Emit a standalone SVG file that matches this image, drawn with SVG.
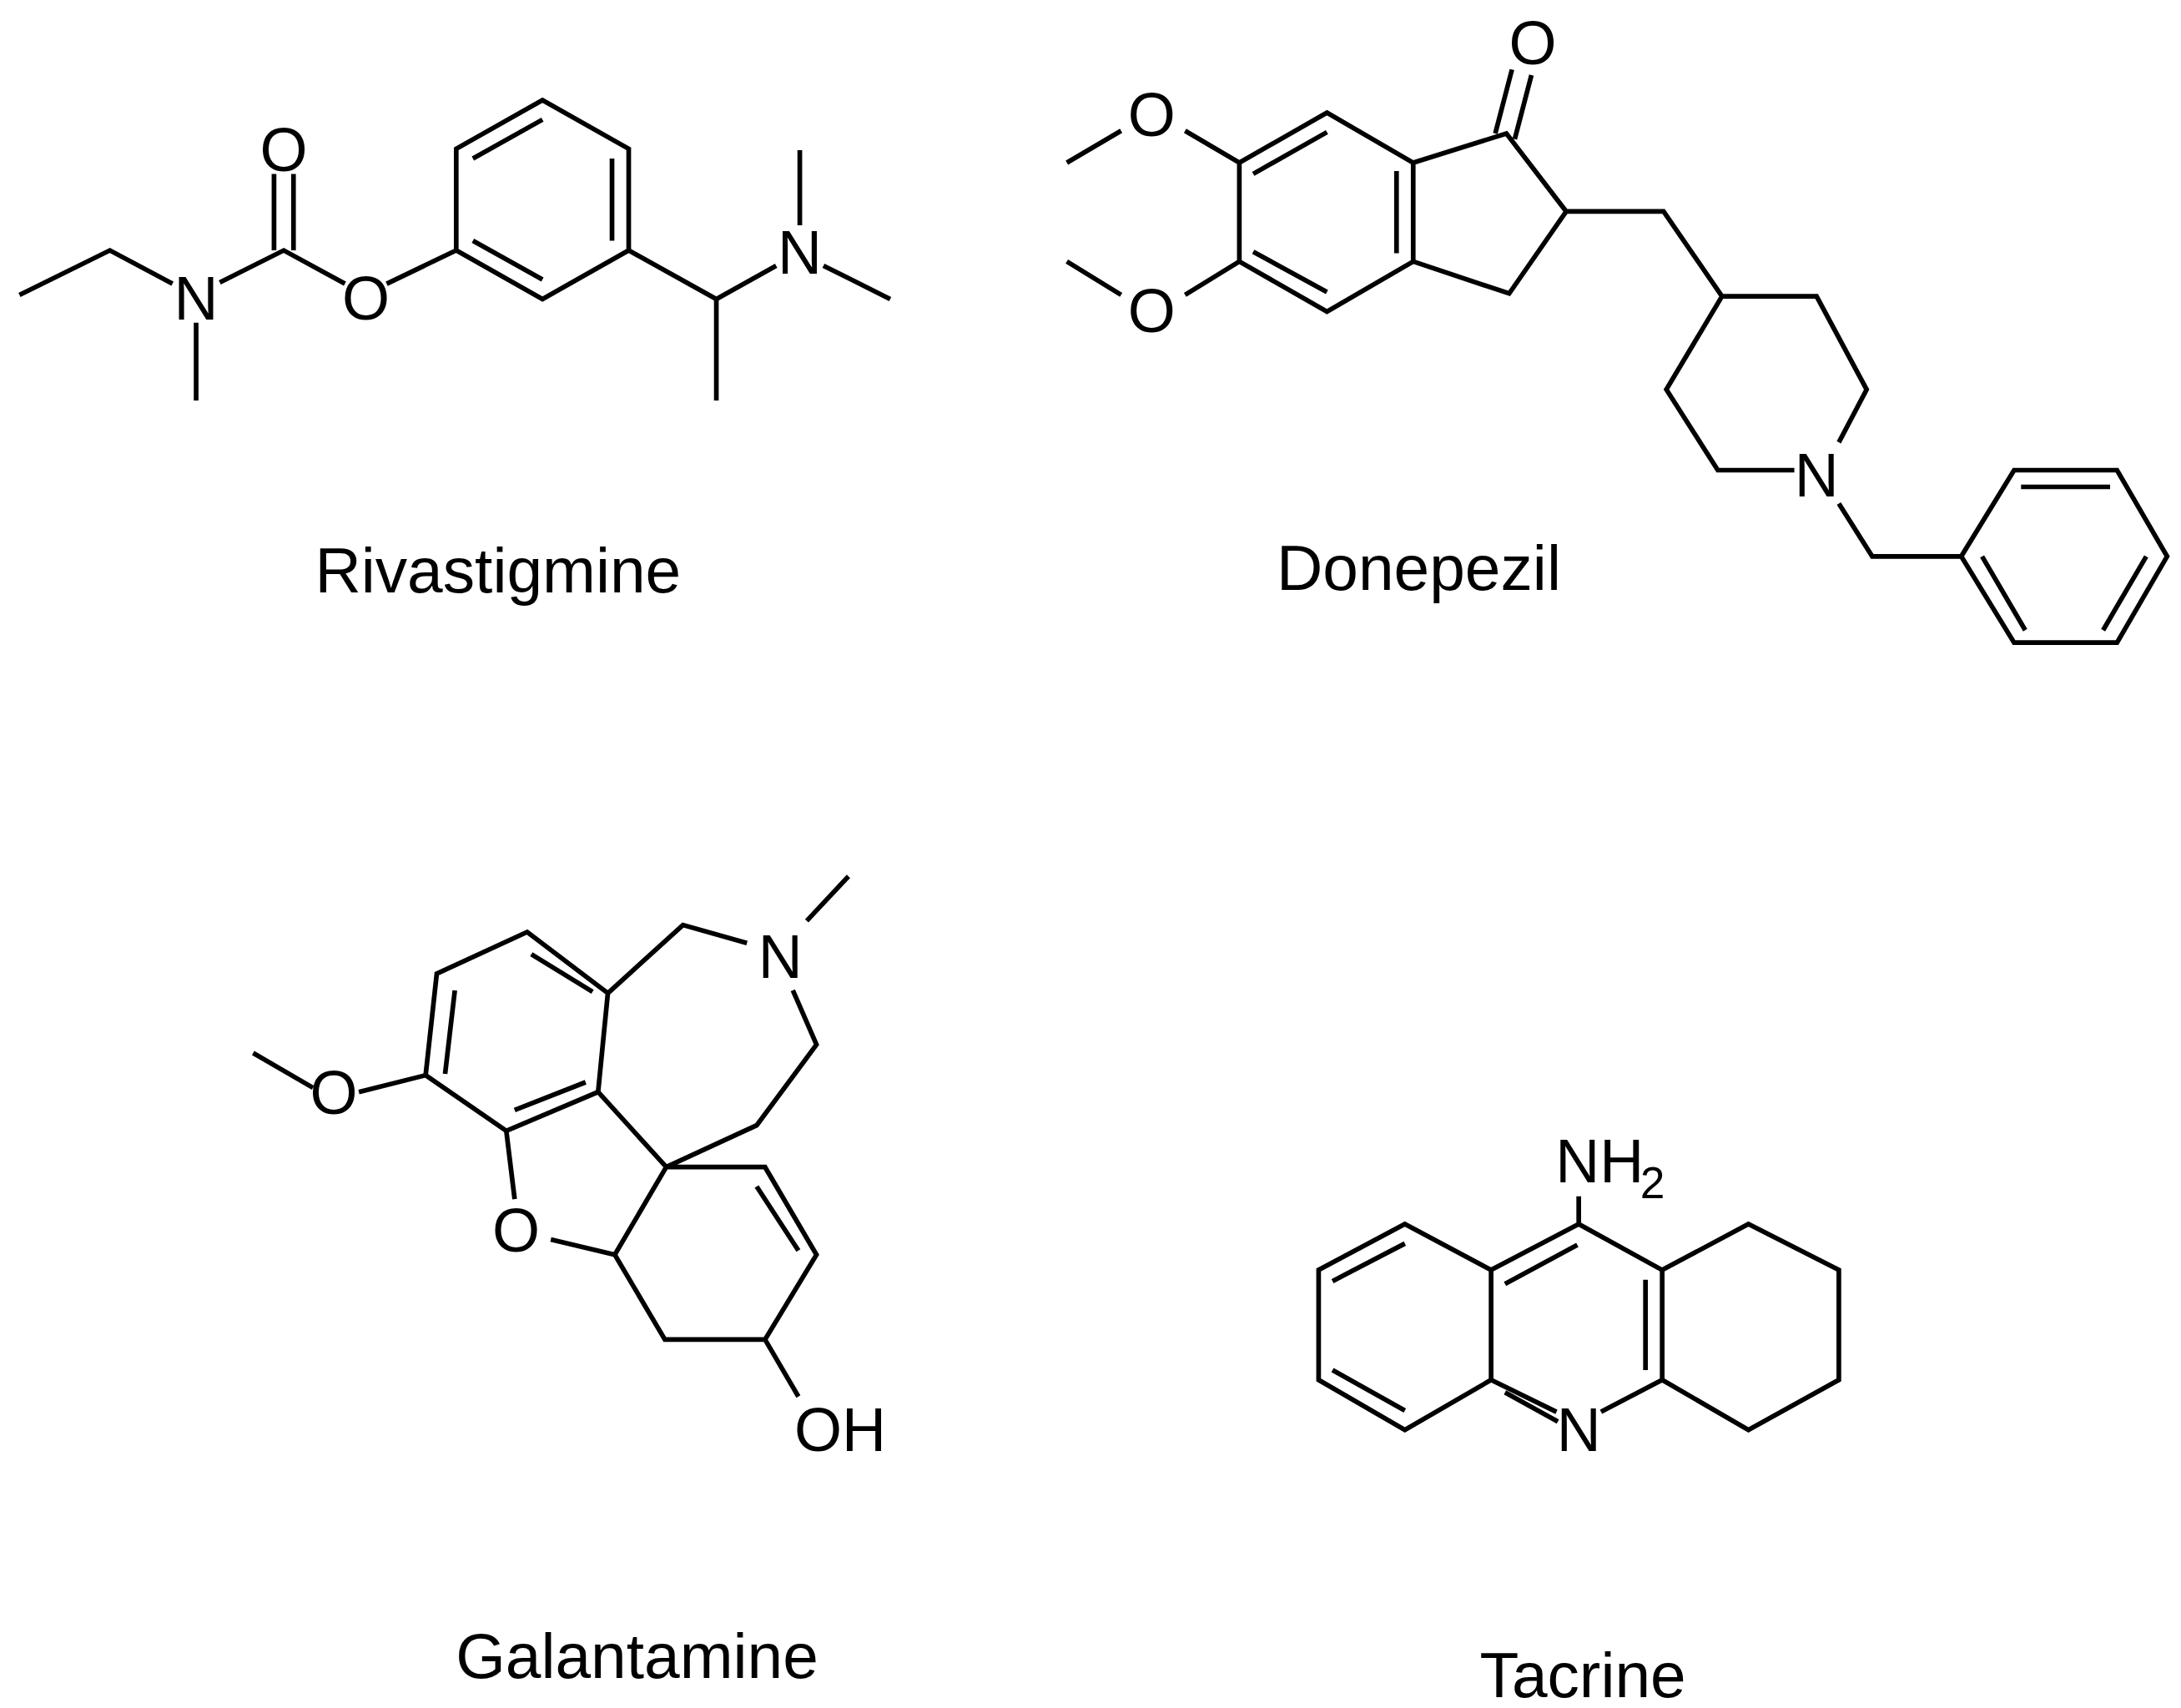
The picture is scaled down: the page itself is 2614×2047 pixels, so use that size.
<svg xmlns="http://www.w3.org/2000/svg" width="2614" height="2047" viewBox="0 0 2614 2047">
<style>
.b{fill:none;stroke:#000;stroke-width:3.4;stroke-linecap:butt;stroke-linejoin:miter}
.a{font-family:"Liberation Sans",Arial,sans-serif;font-size:44px;text-anchor:middle;dominant-baseline:central}
.l{font-family:"Liberation Sans",Arial,sans-serif;font-size:46px;text-anchor:middle}
</style>
<rect width="2614" height="2047" fill="#fff"/>
<g transform="scale(1.6671)">
<g id="rivastigmine">
<path class="b" d="M14,212 L79,180 L124,204 M141,232 L141,288 M158,203 L204,180 L248,204 M278,204 L328,180 L328,107 L390,72 L452,107 L452,180 L390,215 L328,180 M452,180 L515,215 L515,288 M515,215 L558,191 M575,162 L575,108 M592,191 L640,215"/>
<path class="b" d="M197,180 L197,125 M211,180 L211,125 M340,114 L390,86 M440,114 L440,173 M340,173 L390,201"/>
<text class="a" x="141" y="215">N</text>
<text class="a" x="204" y="108">O</text>
<text class="a" x="263" y="215">O</text>
<text class="a" x="575" y="182">N</text>
<text class="l" x="358" y="426">Rivastigmine</text>
</g>
<g id="donepezil">
<path class="b" d="M767,117 L806,94 M852,94 L891,117 L954,81 L1016,117 L1016,188 L954,224 L891,188 L891,117 M852,212 L891,188 M806,212 L767,188 M1016,117 L1083,96 L1126,152 L1085,211 L1016,188 M1126,152 L1196,152 L1238,213 L1306,213 L1342,280 L1322,318 M1290,338 L1235,338 L1198,280 L1238,213 M1322,362 L1346,400 L1410,400 L1448,338 L1522,338 L1558,400 L1522,462 L1448,462 L1410,400"/>
<path class="b" d="M1075,96 L1087,50 M1089,100 L1101,54 M901,125 L954,95 M1004,123 L1004,182 M901,181 L954,210 M1453,350 L1517,350 M1543,400 L1512,453 M1425,400 L1456,453"/>
<text class="a" x="1102" y="31">O</text>
<text class="a" x="828" y="83">O</text>
<text class="a" x="828" y="224">O</text>
<text class="a" x="1306" y="342">N</text>
<text class="l" x="1020" y="424">Donepezil</text>
</g>
<g id="galantamine">
<path class="b" d="M182,757 L225,782 M258,785 L306,773 L314,700 L379,670 L437,714 L430,785 L364,813 L306,773 M364,813 L370,862 M396,891 L442,902 L479,839 L430,785 M437,714 L491,665 L537,678 M580,662 L610,630 M570,712 L587,751 L544,809 L479,839 L550,839 L587,902 L550,963 L478,963 L442,902 M550,963 L574,1004"/>
<path class="b" d="M327,712 L320,772 M382,686 L426,713 M370,798 L421,778 M544,853 L574,899"/>
<text class="a" x="240" y="786">O</text>
<text class="a" x="371" y="885">O</text>
<text class="a" x="561" y="688">N</text>
<text class="a" x="604" y="1028">OH</text>
<text class="l" x="458" y="1206">Galantamine</text>
</g>
<g id="tacrine">
<path class="b" d="M1135,860 L1135,880 L1195,913 L1195,992 L1151,1015 M1119,1015 L1072,992 L1072,913 L1135,880 M1072,913 L1010,880 L948,913 L948,992 L1010,1028 L1072,992 M1195,913 L1257,880 L1322,913 L1322,992 L1257,1028 L1195,992"/>
<path class="b" d="M1134,895 L1082,923 M1183,920 L1183,985 M1082,1001 L1120,1022 M1010,894 L958,921 M958,985 L1010,1014"/>
<text class="a" x="1150" y="835">NH</text>
<text class="a" x="1188" y="850" style="font-size:32px">2</text>
<text class="a" x="1135" y="1028">N</text>
<text class="l" x="1138" y="1220">Tacrine</text>
</g>
</g>
</svg>
